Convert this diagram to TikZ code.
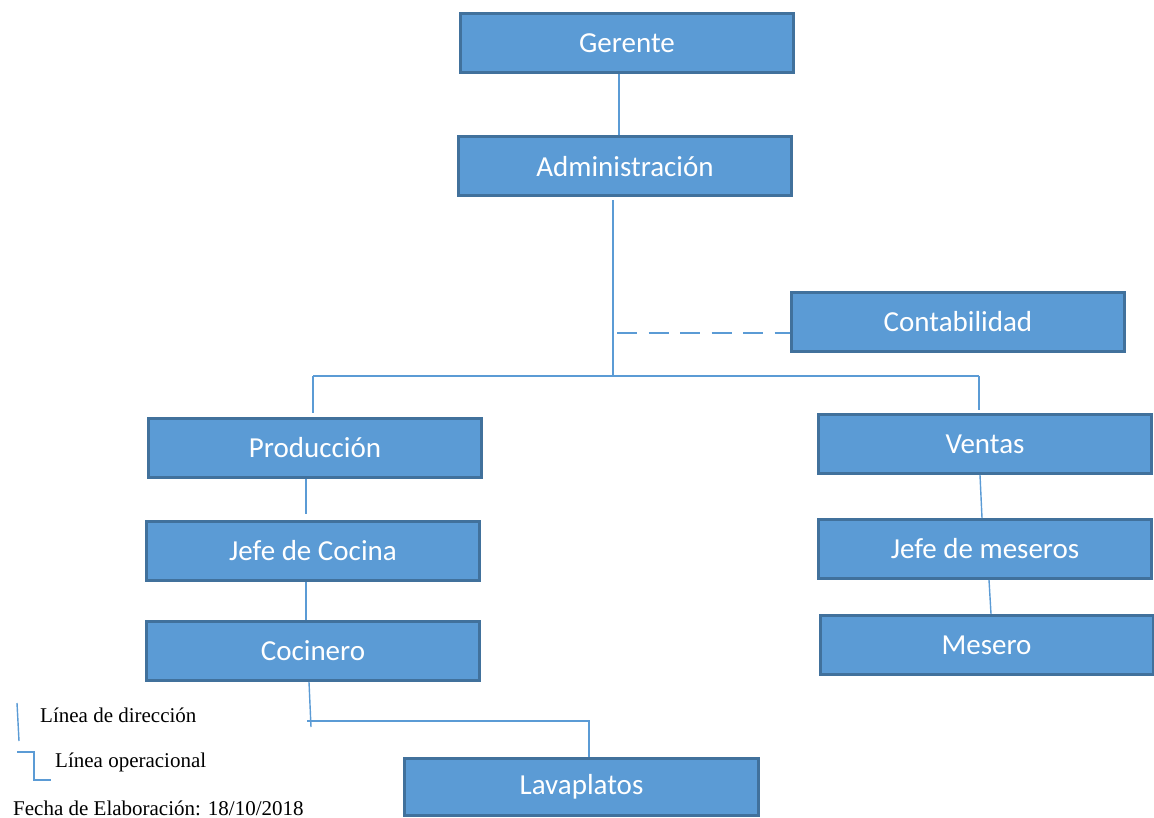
\documentclass[tikz,border=0pt]{standalone}
\usepackage{fontspec}
\setmainfont{Liberation Serif}
\newfontfamily\boxfont{Carlito}
\usepackage{xcolor}
\usetikzlibrary{positioning,calc}
\definecolor{boxfill}{HTML}{5B9BD5}
\definecolor{boxedge}{HTML}{41719C}

\begin{document}
\begin{tikzpicture}[x=1pt, y=-1pt,
  block/.style={rectangle, draw=boxedge, line width=3pt, fill=boxfill, text=white, minimum width=333pt, minimum height=59pt, inner sep=0pt, font=\boxfont\fontsize{29}{34}\selectfont},
  line/.style={draw=boxfill, line width=1.4pt},
  dashline/.style={line, dash pattern=on 20pt off 11.5pt},
  legend/.style={anchor=west, inner sep=0pt, font=\fontsize{21}{25}\selectfont}]
  \useasboundingbox (0,0) rectangle (1154,818);

  \node [block] (gerente) at (627,43) {Gerente};
  \node [block] (admin) at (625,166.5) {Administración};
  \node [block] (conta) at (958,322) {Contabilidad};
  \node [block] (prod) at (315,447.5) {Producción};
  \node [block] (ventas) at (985,444) {Ventas};
  \node [block] (jcocina) at (313,551) {Jefe de Cocina};
  \node [block] (cocinero) at (313,651) {Cocinero};
  \node [block] (jmeseros) at (985,549) {Jefe de meseros};
  \node [block] (mesero) at (986.5,645) {Mesero};
  \node [block, minimum width=354pt, minimum height=57pt] (lavaplatos) at (581.5,787) {Lavaplatos};

  \coordinate (hub) at (613,376);
  \coordinate (hubL) at (313,376);
  \coordinate (hubR) at (979,376);
  \coordinate (dash) at (617,333);
  \coordinate (washL) at (307,721);
  \coordinate (washR) at (589,721);

  \path [line] ([xshift=-8pt]gerente.south) -- ([xshift=-6pt]admin.north);
  \path [line] ([xshift=-12pt, yshift=-3pt]admin.south) -- (hub);
  \path [line] (hubL) -- (hubR);
  \path [dashline] (dash) -- ([yshift=-11pt]conta.west);
  \path [line] (hubL) -- ([xshift=-2pt, yshift=4pt]prod.north);
  \path [line] (hubR) -- ([xshift=-6pt, yshift=3pt]ventas.north);
  \path [line] ([xshift=-9pt]prod.south) -- ([xshift=-7pt, yshift=6pt]jcocina.north);
  \path [line] ([xshift=-7pt]jcocina.south) -- ([xshift=-7pt]cocinero.north);
  \path [line] ([xshift=-4pt]cocinero.south) -- ++(2,45);
  \path [line] (washL) -- (washR) -- (lavaplatos.north -| washR);
  \path [line] ([xshift=-5pt]ventas.south) -- ([xshift=-3pt]jmeseros.north);
  \path [line] ([xshift=4pt]jmeseros.south) -- ([xshift=4.5pt]mesero.north);

  % legend
  \draw [line] (17,703) -- (19,741);
  \node [legend] (ldir) at (40,715) {Línea de dirección};
  \draw [line] (17,752) -- (34,752) -- (34,780) -- (51,780);
  \node [legend] (lop) at (55,762) {Línea operacional};
  \node [legend] (fecha) at (13,808) {Fecha de Elaboración: 18/10/2018};
\end{tikzpicture}
\end{document}
